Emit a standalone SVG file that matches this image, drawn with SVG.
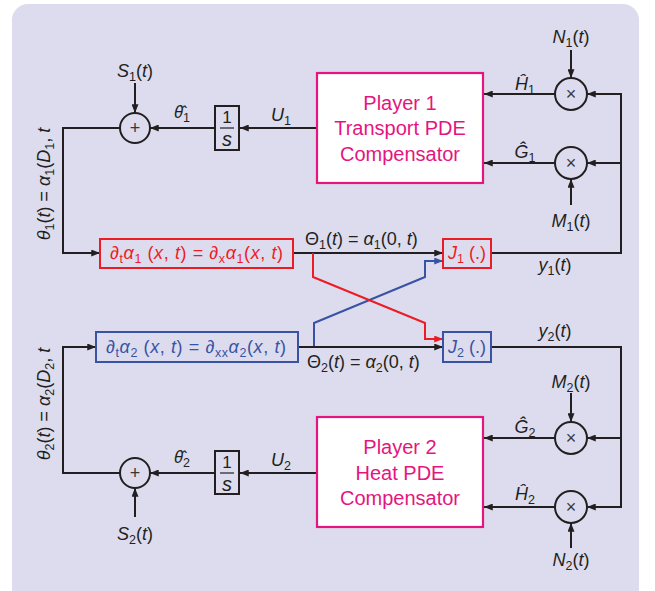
<svg xmlns="http://www.w3.org/2000/svg" width="655" height="591" viewBox="0 0 655 591">
<style>
text{font-family:"Liberation Sans",Arial,sans-serif;font-size:18px;fill:#231f20}
.i{font-style:italic}
.sub{font-size:12.5px;font-style:normal}
.th{font-family:"Noto Sans","DejaVu Sans",sans-serif;font-style:italic;font-size:17px}
.ln{fill:none;stroke:#231f20;stroke-width:2}
.red{fill:none;stroke:#ed1c24;stroke-width:2}
.blue{fill:none;stroke:#3953a4;stroke-width:2}
.op{fill:none;stroke:#231f20;stroke-width:2}
.sym{font-size:18px;fill:#3a3638;text-anchor:middle}
.player{fill:#ffffff;stroke:#e5147f;stroke-width:2.2}
.ptxt{font-size:20px;fill:#e5147f;text-anchor:middle}
.pde{font-size:18px;text-anchor:middle}
.c{text-anchor:middle}
</style>
<defs>
<marker id="ak" viewBox="0 0 10 8" refX="10" refY="4" markerWidth="9" markerHeight="7" markerUnits="userSpaceOnUse" orient="auto"><path d="M0,0 L10,4 L0,8 z" fill="#231f20"/></marker>
<marker id="ar" viewBox="0 0 10 8" refX="10" refY="4" markerWidth="9" markerHeight="7" markerUnits="userSpaceOnUse" orient="auto"><path d="M0,0 L10,4 L0,8 z" fill="#ed1c24"/></marker>
<marker id="ab" viewBox="0 0 10 8" refX="10" refY="4" markerWidth="9" markerHeight="7" markerUnits="userSpaceOnUse" orient="auto"><path d="M0,0 L10,4 L0,8 z" fill="#3953a4"/></marker>
</defs>
<rect x="12" y="4" width="627" height="600" rx="16" fill="#dcdcee"/>

<g id="connectors">
<line class="ln" x1="621" y1="94" x2="587" y2="94" marker-end="url(#ak)"/>
<line class="ln" x1="621" y1="163" x2="587" y2="163" marker-end="url(#ak)"/>
<line class="ln" x1="555" y1="94" x2="484" y2="94" marker-end="url(#ak)"/>
<line class="ln" x1="555" y1="163" x2="484" y2="163" marker-end="url(#ak)"/>
<line class="ln" x1="571" y1="50" x2="571" y2="78" marker-end="url(#ak)"/>
<line class="ln" x1="571" y1="205" x2="571" y2="179" marker-end="url(#ak)"/>
<polyline class="ln" points="621,93 621,253 491,253"/>
<line class="ln" x1="317" y1="128" x2="240" y2="128" marker-end="url(#ak)"/>
<line class="ln" x1="215" y1="128" x2="150" y2="128" marker-end="url(#ak)"/>
<line class="ln" x1="135" y1="83" x2="135" y2="113" marker-end="url(#ak)"/>
<polyline class="ln" points="120,128 63,128 63,253 100,253" marker-end="url(#ak)"/>
<line class="ln" x1="293" y1="253" x2="443" y2="253" marker-end="url(#ak)"/>
<polyline class="blue" points="314,347 314,323 425,277 425,261 443,261" marker-end="url(#ab)"/>
<polyline class="red" points="313,253 313,277 425,323 425,339 443,339" marker-end="url(#ar)"/>
<line class="ln" x1="298" y1="347" x2="443" y2="347" marker-end="url(#ak)"/>
<polyline class="ln" points="491,347 621,347 621,508"/>
<line class="ln" x1="621" y1="438" x2="587" y2="438" marker-end="url(#ak)"/>
<line class="ln" x1="621" y1="507" x2="587" y2="507" marker-end="url(#ak)"/>
<line class="ln" x1="555" y1="438" x2="484" y2="438" marker-end="url(#ak)"/>
<line class="ln" x1="555" y1="507" x2="484" y2="507" marker-end="url(#ak)"/>
<line class="ln" x1="571" y1="393" x2="571" y2="422" marker-end="url(#ak)"/>
<line class="ln" x1="571" y1="548" x2="571" y2="523" marker-end="url(#ak)"/>
<line class="ln" x1="317" y1="473" x2="240" y2="473" marker-end="url(#ak)"/>
<line class="ln" x1="215" y1="473" x2="150" y2="473" marker-end="url(#ak)"/>
<line class="ln" x1="135" y1="517" x2="135" y2="488" marker-end="url(#ak)"/>
<polyline class="ln" points="120,473 63,473 63,347 96,347" marker-end="url(#ak)"/>
</g>

<g id="player1">
<rect class="player" x="317" y="73" width="166" height="110"/>
<text class="ptxt" x="400" y="110">Player 1</text>
<text class="ptxt" x="400" y="135">Transport PDE</text>
<text class="ptxt" x="400" y="161">Compensator</text>
</g>
<g id="player2">
<rect class="player" x="317" y="417" width="166" height="110"/>
<text class="ptxt" x="400" y="454">Player 2</text>
<text class="ptxt" x="400" y="480">Heat PDE</text>
<text class="ptxt" x="400" y="505">Compensator</text>
</g>

<g id="mulH1"><circle class="op" cx="571" cy="94" r="16"/><text class="sym" x="571" y="100">×</text></g>
<g id="mulG1"><circle class="op" cx="571" cy="163" r="16"/><text class="sym" x="571" y="169">×</text></g>
<g id="mulG2"><circle class="op" cx="571" cy="438" r="16"/><text class="sym" x="571" y="444">×</text></g>
<g id="mulH2"><circle class="op" cx="571" cy="507" r="16"/><text class="sym" x="571" y="513">×</text></g>
<g id="sum1"><circle class="op" cx="135" cy="128" r="15"/><text class="sym" x="135" y="134">+</text></g>
<g id="sum2"><circle class="op" cx="135" cy="473" r="15"/><text class="sym" x="135" y="479">+</text></g>

<g id="int1">
<rect x="215" y="106" width="24" height="44" fill="none" stroke="#231f20" stroke-width="2"/>
<text class="c" x="227" y="123" style="font-size:17px">1</text>
<line x1="220" y1="128" x2="234" y2="128" stroke="#231f20" stroke-width="1.2"/>
<text class="c i" x="227" y="146" style="font-size:20px">s</text>
</g>
<g id="int2">
<rect x="215" y="451" width="24" height="43" fill="none" stroke="#231f20" stroke-width="2"/>
<text class="c" x="227" y="468" style="font-size:17px">1</text>
<line x1="220" y1="473" x2="234" y2="473" stroke="#231f20" stroke-width="1.2"/>
<text class="c i" x="227" y="491" style="font-size:20px">s</text>
</g>

<g id="pde1">
<rect x="100" y="239" width="193" height="29" fill="none" stroke="#ed1c24" stroke-width="2"/>
<text class="pde" x="196.5" y="259" textLength="173" lengthAdjust="spacing" style="fill:#ed1c24">∂<tspan class="sub i" dy="4">t</tspan><tspan class="i" dy="-4">α</tspan><tspan class="sub" dy="4">1</tspan><tspan dy="-4"> (</tspan><tspan class="i">x</tspan>, <tspan class="i">t</tspan>) = ∂<tspan class="sub i" dy="4">x</tspan><tspan class="i" dy="-4">α</tspan><tspan class="sub" dy="4">1</tspan><tspan dy="-4">(</tspan><tspan class="i">x</tspan>, <tspan class="i">t</tspan>)</text>
</g>
<g id="pde2">
<rect x="96" y="332" width="202" height="30" fill="none" stroke="#3953a4" stroke-width="2"/>
<text class="pde" x="196" y="353" textLength="180" lengthAdjust="spacing" style="fill:#3953a4">∂<tspan class="sub i" dy="4">t</tspan><tspan class="i" dy="-4">α</tspan><tspan class="sub" dy="4">2</tspan><tspan dy="-4"> (</tspan><tspan class="i">x</tspan>, <tspan class="i">t</tspan>) = ∂<tspan class="sub i" dy="4">xx</tspan><tspan class="i" dy="-4">α</tspan><tspan class="sub" dy="4">2</tspan><tspan dy="-4">(</tspan><tspan class="i">x</tspan>, <tspan class="i">t</tspan>)</text>
</g>
<g id="J1">
<rect x="443" y="239" width="48" height="29" fill="none" stroke="#ed1c24" stroke-width="2"/>
<text class="c" x="467" y="259" style="fill:#ed1c24"><tspan class="i">J</tspan><tspan class="sub" dy="4">1</tspan><tspan dy="-4"> (.)</tspan></text>
</g>
<g id="J2">
<rect x="443" y="332" width="48" height="30" fill="none" stroke="#3953a4" stroke-width="2"/>
<text class="c" x="467" y="353" style="fill:#3953a4"><tspan class="i">J</tspan><tspan class="sub" dy="4">2</tspan><tspan dy="-4"> (.)</tspan></text>
</g>

<g id="labels">
<text class="c" x="135" y="77"><tspan class="i">S</tspan><tspan class="sub" dy="4">1</tspan><tspan dy="-4">(</tspan><tspan class="i">t</tspan>)</text>
<text class="c" x="135" y="540"><tspan class="i">S</tspan><tspan class="sub" dy="4">2</tspan><tspan dy="-4">(</tspan><tspan class="i">t</tspan>)</text>
<text x="174" y="118"><tspan class="th">θ̂</tspan><tspan class="sub" dy="4">1</tspan></text>
<text x="174" y="463"><tspan class="th">θ̂</tspan><tspan class="sub" dy="4">2</tspan></text>
<text class="c" x="281" y="121"><tspan class="i">U</tspan><tspan class="sub" dy="4">1</tspan></text>
<text class="c" x="281" y="466"><tspan class="i">U</tspan><tspan class="sub" dy="4">2</tspan></text>
<text class="c" x="571" y="43"><tspan class="i">N</tspan><tspan class="sub" dy="4">1</tspan><tspan dy="-4">(</tspan><tspan class="i">t</tspan>)</text>
<text class="c" x="571" y="227"><tspan class="i">M</tspan><tspan class="sub" dy="4">1</tspan><tspan dy="-4">(</tspan><tspan class="i">t</tspan>)</text>
<text class="c" x="571" y="388"><tspan class="i">M</tspan><tspan class="sub" dy="4">2</tspan><tspan dy="-4">(</tspan><tspan class="i">t</tspan>)</text>
<text class="c" x="571" y="566"><tspan class="i">N</tspan><tspan class="sub" dy="4">2</tspan><tspan dy="-4">(</tspan><tspan class="i">t</tspan>)</text>
<text class="c" x="525" y="90"><tspan class="i">Ĥ</tspan><tspan class="sub" dy="4">1</tspan></text>
<text class="c" x="525" y="158"><tspan class="i">Ĝ</tspan><tspan class="sub" dy="4">1</tspan></text>
<text class="c" x="525" y="433"><tspan class="i">Ĝ</tspan><tspan class="sub" dy="4">2</tspan></text>
<text class="c" x="525" y="500"><tspan class="i">Ĥ</tspan><tspan class="sub" dy="4">2</tspan></text>
<text class="c" x="555" y="271"><tspan class="i">y</tspan><tspan class="sub" dy="4">1</tspan><tspan dy="-4">(</tspan><tspan class="i">t</tspan>)</text>
<text class="c" x="555" y="337"><tspan class="i">y</tspan><tspan class="sub" dy="4">2</tspan><tspan dy="-4">(</tspan><tspan class="i">t</tspan>)</text>
<text x="305" y="245">Θ<tspan class="sub" dy="4">1</tspan><tspan dy="-4">(</tspan><tspan class="i">t</tspan>) = <tspan class="i">α</tspan><tspan class="sub" dy="4">1</tspan><tspan dy="-4">(0, </tspan><tspan class="i">t</tspan>)</text>
<text x="307" y="368">Θ<tspan class="sub" dy="4">2</tspan><tspan dy="-4">(</tspan><tspan class="i">t</tspan>) = <tspan class="i">α</tspan><tspan class="sub" dy="4">2</tspan><tspan dy="-4">(0, </tspan><tspan class="i">t</tspan>)</text>
<text class="c" transform="translate(50,184) rotate(-90)"><tspan class="i">θ</tspan><tspan class="sub" dy="4">1</tspan><tspan dy="-4">(</tspan><tspan class="i">t</tspan>) = <tspan class="i">α</tspan><tspan class="sub" dy="4">1</tspan><tspan dy="-4">(</tspan><tspan class="i">D</tspan><tspan class="sub" dy="4">1</tspan><tspan dy="-4">, </tspan><tspan class="i">t</tspan></text>
<text class="c" transform="translate(50,404) rotate(-90)"><tspan class="i">θ</tspan><tspan class="sub" dy="4">2</tspan><tspan dy="-4">(</tspan><tspan class="i">t</tspan>) = <tspan class="i">α</tspan><tspan class="sub" dy="4">2</tspan><tspan dy="-4">(</tspan><tspan class="i">D</tspan><tspan class="sub" dy="4">2</tspan><tspan dy="-4">, </tspan><tspan class="i">t</tspan></text>
</g>
</svg>
